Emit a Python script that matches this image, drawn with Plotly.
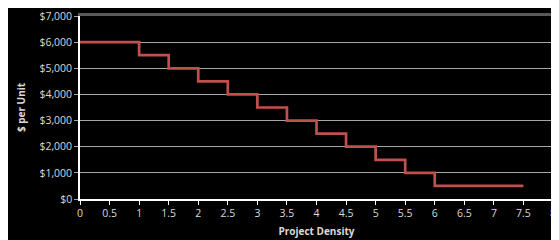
import plotly.graph_objects as go

density = [0, 1, 1.5, 2, 2.5, 3, 3.5, 4, 4.5, 5, 5.5, 6, 7.5]
price = [6000, 5500, 5000, 4500, 4000, 3500, 3000, 2500, 2000, 1500, 1000, 500, 500]
x_ticks = [0, 0.5, 1, 1.5, 2, 2.5, 3, 3.5, 4, 4.5, 5, 5.5, 6, 6.5, 7, 7.5, 8]
x_labels = ["0", "0.5", "1", "1.5", "2", "2.5", "3", "3.5", "4", "4.5", "5", "5.5", "6", "6.5", "7", "7.5", "8"]
y_ticks = [0, 1000, 2000, 3000, 4000, 5000, 6000, 7000]
y_labels = ["$0", "$1,000", "$2,000", "$3,000", "$4,000", "$5,000", "$6,000", "$7,000"]

fig = go.Figure()
fig.add_trace(go.Scatter(x=density, y=price, mode="lines", line=dict(shape="hv", color="#C0504D", width=2.7),
                         showlegend=False, hoverinfo="skip"))
# empty trace so the top border axis is drawn
fig.add_trace(go.Scatter(x=[], y=[], xaxis="x2", showlegend=False, hoverinfo="skip"))

font_family = "Open Sans, Liberation Sans, sans-serif"
# page body has an 8px margin, so the figure is sized 8px smaller each way
fig.update_layout(
    width=551, height=232,
    paper_bgcolor="black", plot_bgcolor="black",
    margin=dict(l=72, r=6, t=8, b=41),
    font=dict(family=font_family, color="#d9d9d9", size=10),
    xaxis=dict(range=[0, 8], tickvals=x_ticks, ticktext=x_labels, showgrid=False, automargin=False,
               showline=True, linecolor="white", linewidth=1.5, ticks="outside", ticklen=4,
               tickcolor="white", zeroline=False, tickfont=dict(size=10.5, color="#d9d9d9"),
               title=dict(text="<b>Project Density</b>", font=dict(size=10, color="#d9d9d9"), standoff=9)),
    xaxis2=dict(range=[0, 8], overlaying="x", side="top", showline=True, linecolor="#595959", linewidth=2.5,
                showticklabels=False, showgrid=False, zeroline=False, ticks="", automargin=False),
    yaxis=dict(range=[0, 7000], tickvals=y_ticks, ticktext=y_labels, showgrid=True, automargin=False,
               gridcolor="#a6a6a6", gridwidth=1, showline=True, linecolor="white", linewidth=1.5,
               ticks="outside", ticklen=4, tickcolor="#a6a6a6", zeroline=False,
               tickfont=dict(size=10.5, color="#d9d9d9"),
               title=dict(text="<b>$ per Unit</b>", font=dict(size=10, color="#d9d9d9"), standoff=12)),
)
fig.write_html("out.html")
